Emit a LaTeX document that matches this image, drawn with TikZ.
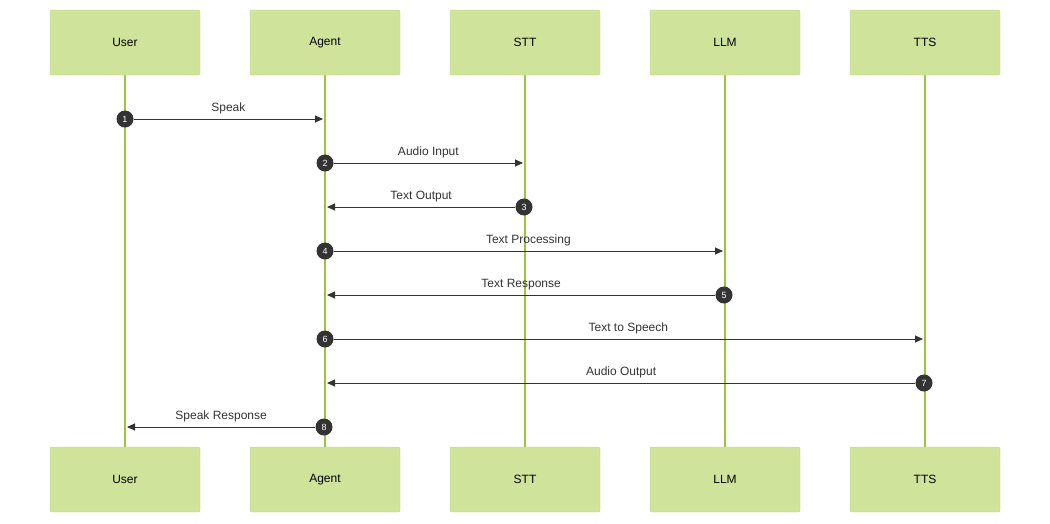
\documentclass[tikz,border=0pt]{standalone}
\usepackage{fontspec}
\setmainfont{Liberation Sans}
\usetikzlibrary{arrows.meta}
\definecolor{boxfill}{HTML}{D0E39A}
\definecolor{boxline}{HTML}{B7D46E}
\definecolor{life}{HTML}{9CC43C}
\definecolor{ink}{HTML}{333333}
\begin{document}
\begin{tikzpicture}[x=1pt,y=-1pt,
  actor/.style={draw=boxline,fill=boxfill,rounded corners=2pt,minimum width=150pt,minimum height=65pt,inner sep=0pt,font=\fontsize{12pt}{14pt}\selectfont,text=black},
  num/.style={circle,fill=ink,text=white,inner sep=0pt,minimum size=17pt,font=\fontsize{9pt}{10pt}\selectfont},
  msg/.style={draw=ink,line width=0.9pt,-{Triangle[length=8pt,width=7pt]}},
  lbl/.style={text=ink,font=\fontsize{12pt}{14pt}\selectfont,above=1pt}]
\useasboundingbox (0,0) rectangle (1050,523);
\foreach \n/\t/\x in {u/User/125,a/Agent/325,s/STT/525,l/LLM/725,t/TTS/925}{
  \draw[life,line width=1.2pt] (\x,75) -- (\x,447);
  \node[actor] (\n1) at (\x,42.5) {\t};
  \node[actor] (\n2) at (\x,479.5) {\t};
}
\foreach \i/\sx/\ex/\y/\t in {1/125/323/119/Speak,2/325/523/163/Audio Input,3/524/327/207/Text Output,4/325/723/251/Text Processing,5/724/327/295/Text Response,6/325/923/339/Text to Speech,7/924/327/383/Audio Output,8/324/127/427/Speak Response}{
  \node[num] (c\i) at (\sx,\y) {\i};
  \coordinate (e\i) at (\ex,\y);
  \draw[msg] (c\i) -- (e\i) node[midway,lbl] {\t};
}
\end{tikzpicture}
\end{document}
